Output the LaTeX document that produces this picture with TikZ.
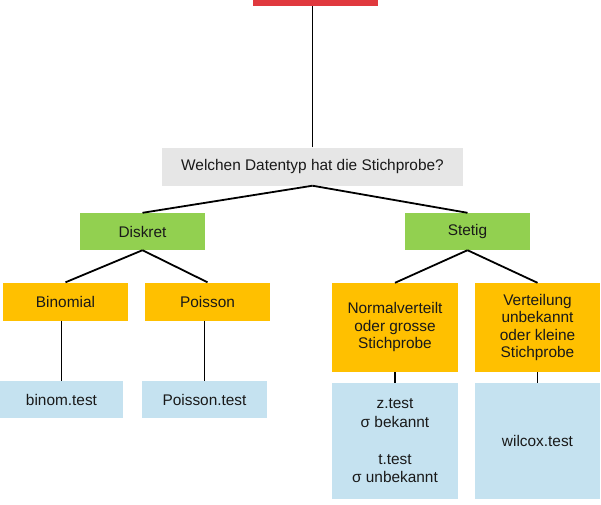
\documentclass[tikz,border=0pt]{standalone}
\usepackage{fontspec}
\setmainfont{Liberation Sans}
\begin{document}
\begin{tikzpicture}[x=1pt,y=-1pt,
  box/.style={rectangle,inner sep=0pt,align=center,font=\fontsize{15.4}{17.5}\selectfont,text=black!90},
  conn/.style={draw=black,line width=1.8pt}]
\useasboundingbox (0,0) rectangle (601,504);
\definecolor{cred}{HTML}{E0393E}
\definecolor{cgray}{HTML}{E6E6E6}
\definecolor{cgreen}{HTML}{92D050}
\definecolor{corange}{HTML}{FFC000}
\definecolor{cblue}{HTML}{C5E2F0}
\node[box,fill=cred,minimum width=125,minimum height=37] (top) at (315.5,-12.5) {};
\node[box,fill=cgray,minimum width=301,minimum height=38] (q) at (312.5,166.5) {Welchen Datentyp hat die Stichprobe?};
\node[box,fill=cgreen,minimum width=125,minimum height=37] (d) at (142.5,231.5) {Diskret};
\node[box,fill=cgreen,minimum width=125,minimum height=37] (s) at (467.5,231.5) {Stetig};
\node[box,fill=corange,minimum width=125,minimum height=38] (bi) at (65.5,301.5) {Binomial};
\node[box,fill=corange,minimum width=125,minimum height=38] (po) at (207.5,301.5) {Poisson};
\node[box,fill=corange,minimum width=126,minimum height=89] (nv) at (395,327.5) {Normalverteilt\\oder grosse\\Stichprobe};
\node[box,fill=corange,minimum width=125,minimum height=89] (vu) at (537.5,327.5) {Verteilung\\unbekannt\\oder kleine\\Stichprobe};
\node[box,fill=cblue,minimum width=123,minimum height=37] (bt) at (61.5,399.5) {binom.test};
\node[box,fill=cblue,minimum width=125,minimum height=37] (pt) at (204.5,399.5) {Poisson.test};
\node[box,fill=cblue,minimum width=126,minimum height=116,font=\fontsize{15.4}{18.5}\selectfont] (zt) at (395,441) {z.test\\σ bekannt\\[18.5pt]t.test\\σ unbekannt};
\node[box,fill=cblue,minimum width=125,minimum height=116] (wt) at (537.5,441) {wilcox.test};
\draw[conn] (q.north) -- (q.north |- top.south);
\draw[conn] (q.south) -- (d.north);
\draw[conn] (q.south) -- (s.north);
\draw[conn] (d.south) -- (bi.north);
\draw[conn] (d.south) -- (po.north);
\draw[conn] (s.south) -- (nv.north);
\draw[conn] (s.south) -- (vu.north);
\draw[conn] (bt.north |- bi.south) -- (bt.north);
\draw[conn] (pt.north |- po.south) -- (pt.north);
\draw[conn] (nv.south) -- (zt.north);
\draw[conn] (vu.south) -- (wt.north);
\end{tikzpicture}
\end{document}
